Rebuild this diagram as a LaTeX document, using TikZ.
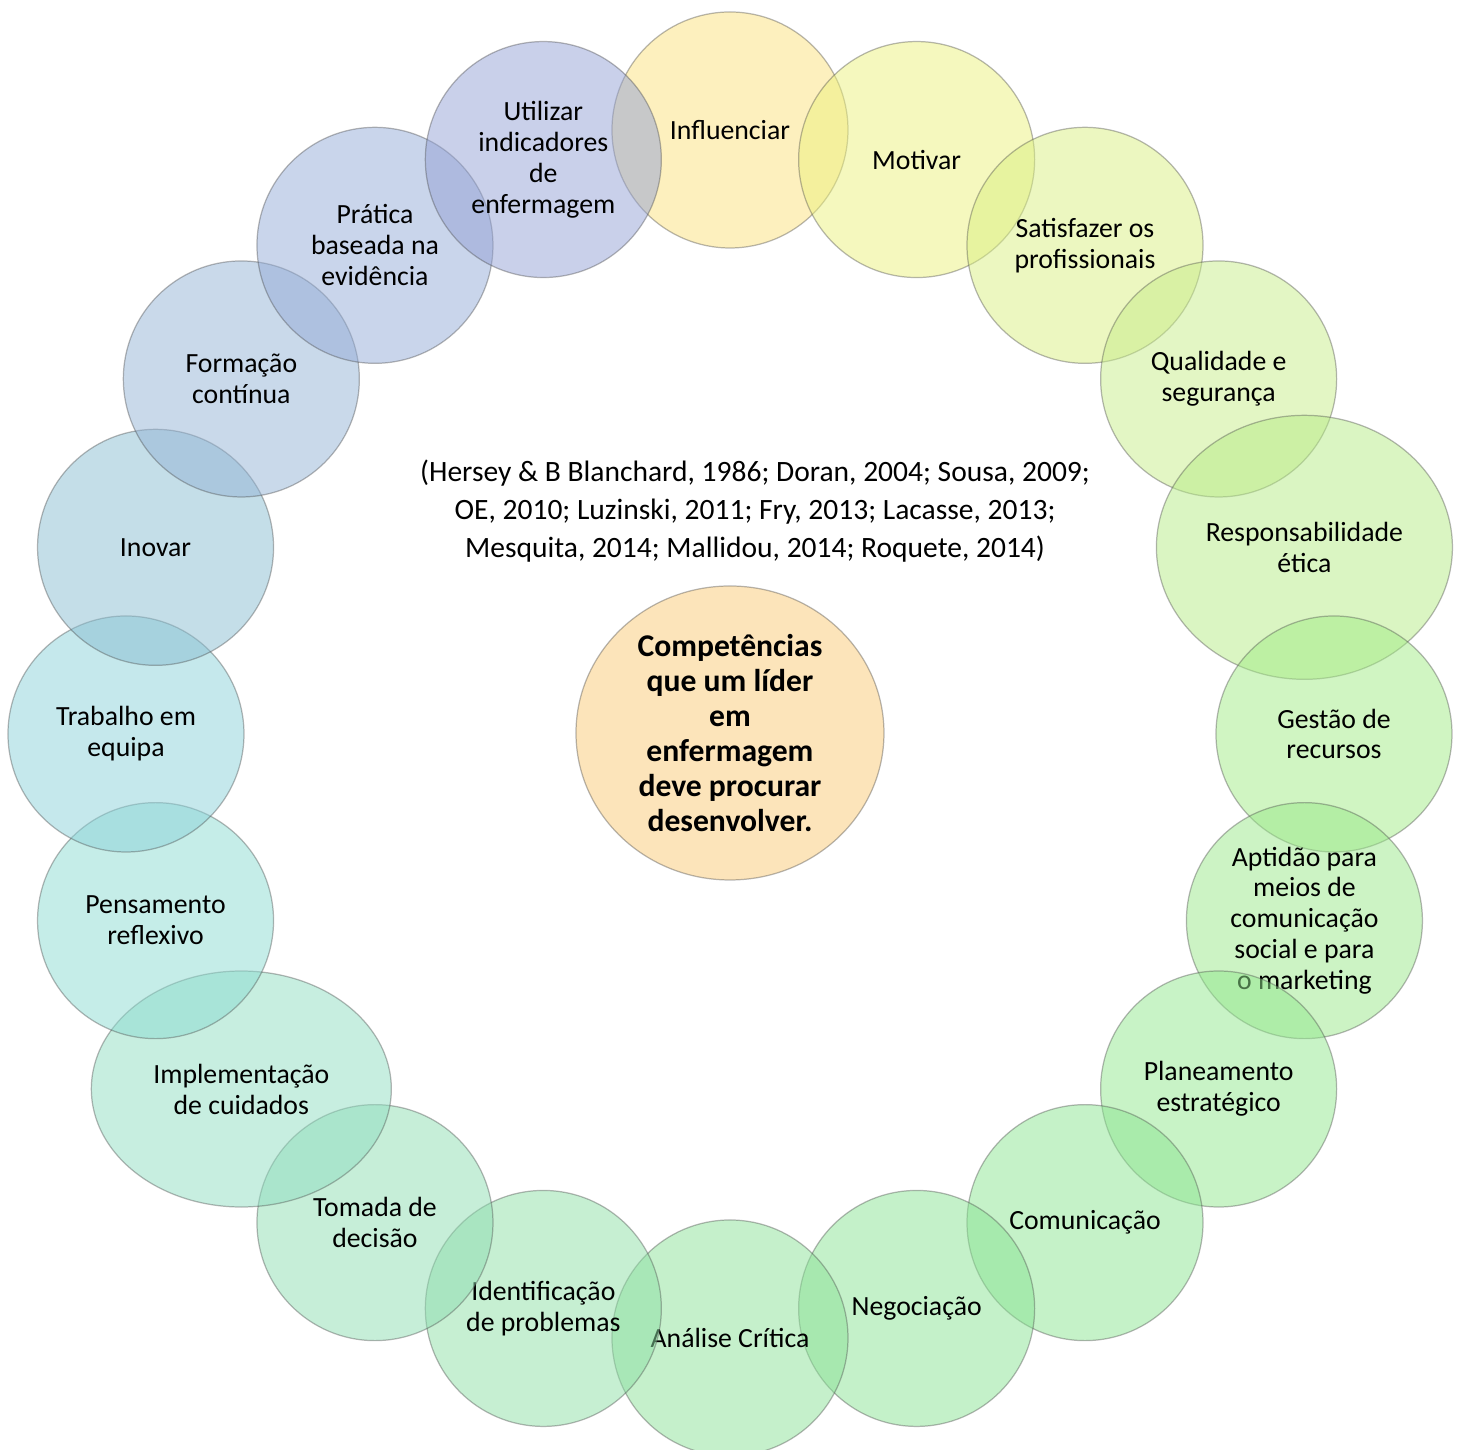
\documentclass[tikz,border=0pt]{standalone}
\usepackage{fontspec}
\setmainfont{Carlito}
\usetikzlibrary{shapes.geometric}
\definecolor{cInf}{RGB}{251,225,125}
\definecolor{cMot}{RGB}{235,241,125}
\definecolor{cSat}{RGB}{217,239,129}
\definecolor{cQua}{RGB}{199,237,137}
\definecolor{cRes}{RGB}{181,235,133}
\definecolor{cGes}{RGB}{161,235,133}
\definecolor{cApt}{RGB}{153,231,137}
\definecolor{cPla}{RGB}{145,231,141}
\definecolor{cCom}{RGB}{139,229,145}
\definecolor{cNeg}{RGB}{137,227,147}
\definecolor{cAna}{RGB}{139,225,151}
\definecolor{cIde}{RGB}{141,223,165}
\definecolor{cTom}{RGB}{141,221,177}
\definecolor{cImp}{RGB}{143,221,193}
\definecolor{cPen}{RGB}{139,219,209}
\definecolor{cTra}{RGB}{139,209,217}
\definecolor{cIno}{RGB}{137,189,209}
\definecolor{cFor}{RGB}{147,179,213}
\definecolor{cPra}{RGB}{147,171,215}
\definecolor{cUti}{RGB}{147,161,213}
\definecolor{cCentro}{RGB}{252,228,186}
\tikzset{
  comp/.style={circle,draw=black!70,draw opacity=.4,line width=.35pt,fill opacity=.5,text opacity=1,
    minimum size=2.36cm,inner sep=0pt,align=center,font=\fontsize{7.9}{8.8}\selectfont},
  compres/.style={comp,ellipse,minimum width=2.96cm,minimum height=2.64cm},
  compimp/.style={comp,ellipse,minimum width=3cm,minimum height=2.36cm},
}
\begin{document}
\begin{tikzpicture}
\useasboundingbox (-7.30,-7.18) rectangle (7.32,7.32);
% competencias a volta
\foreach \i/\nome/\cor/\forma/\txt in {
  0/inf/cInf/comp/Influenciar,
  1/mot/cMot/comp/Motivar,
  2/sat/cSat/comp/{Satisfazer os\\profissionais},
  3/qua/cQua/comp/{Qualidade e\\segurança},
  4/res/cRes/compres/{Responsabilidade\\ética},
  5/ges/cGes/comp/{Gestão de\\recursos},
  6/apt/cApt/comp/{Aptidão para\\meios de\\comunicação\\social e para\\o marketing},
  7/pla/cPla/comp/{Planeamento\\estratégico},
  8/com/cCom/comp/Comunicação,
  9/neg/cNeg/comp/Negociação,
  10/ana/cAna/comp/Análise Crítica,
  11/ide/cIde/comp/{Identificação\\de problemas},
  12/tom/cTom/comp/{Tomada de\\decisão},
  13/imp/cImp/compimp/{Implementação\\de cuidados},
  14/pen/cPen/comp/{Pensamento\\reflexivo},
  15/tra/cTra/comp/{Trabalho em\\equipa},
  16/ino/cIno/comp/Inovar,
  17/for/cFor/comp/{Formação\\contínua},
  18/pra/cPra/comp/{Prática\\baseada na\\evidência},
  19/uti/cUti/comp/{Utilizar\\indicadores\\de\\enfermagem}}
  \node[\forma,fill=\cor] (\nome) at ([yshift=-.02cm]90-18*\i:6.04) {\txt};
% centro
\node[ellipse,draw=black!70,draw opacity=.4,line width=.35pt,fill=cCentro,minimum width=3.08cm,minimum height=2.94cm,
  inner sep=0pt,align=center,font=\fontsize{9}{10}\selectfont\bfseries] (centro) at (0,-0.01)
  {Competências\\que um líder\\em\\enfermagem\\deve procurar\\desenvolver.};
\node[align=center,font=\fontsize{8.4}{10.9}\selectfont] (refs) at (0.25,2.21)
  {(Hersey \& B Blanchard, 1986; Doran, 2004; Sousa, 2009;\\
   OE, 2010; Luzinski, 2011; Fry, 2013; Lacasse, 2013;\\
   Mesquita, 2014; Mallidou, 2014; Roquete, 2014)};
\end{tikzpicture}
\end{document}
